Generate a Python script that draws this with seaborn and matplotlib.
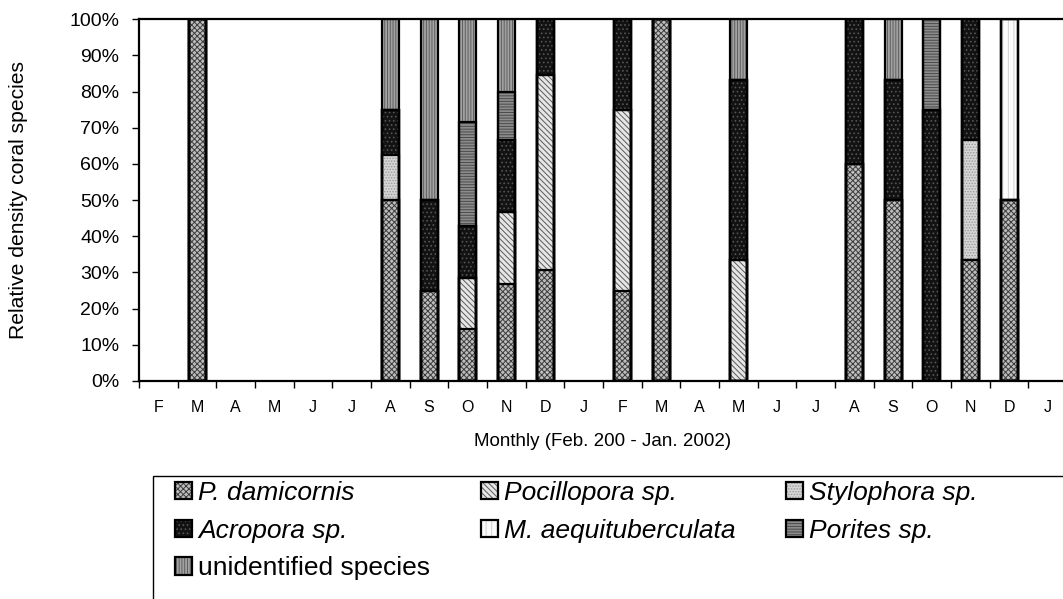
import numpy as np
import matplotlib
matplotlib.use("Agg")
import matplotlib.pyplot as plt
import matplotlib.patches as mpatches
from matplotlib.legend_handler import HandlerTuple
from matplotlib.ticker import PercentFormatter, FixedLocator
import seaborn as sns

# monthly relative density (%), Feb 2001 - Jan 2002 and Feb 2002 - Jan 2003
months = ['F', 'M', 'A', 'M', 'J', 'J', 'A', 'S', 'O', 'N', 'D', 'J',
          'F', 'M', 'A', 'M', 'J', 'J', 'A', 'S', 'O', 'N', 'D', 'J']

p_damicornis = [0, 100, 0, 0, 0, 0, 50, 25, 14.29, 26.7, 30.8, 0,
                25, 100, 0, 0, 0, 0, 60, 50, 0, 33.3, 50, 0]
pocillopora = [0, 0, 0, 0, 0, 0, 0, 0, 14.29, 20, 53.8, 0,
               50, 0, 0, 33.3, 0, 0, 0, 0, 0, 0, 0, 0]
stylophora = [0, 0, 0, 0, 0, 0, 12.5, 0, 0, 0, 0, 0,
              0, 0, 0, 0, 0, 0, 0, 0, 0, 33.3, 0, 0]
acropora = [0, 0, 0, 0, 0, 0, 12.5, 25, 14.29, 20, 15.4, 0,
            25, 0, 0, 50, 0, 0, 40, 33.3, 75, 33.4, 0, 0]
m_aequituberculata = [0, 0, 0, 0, 0, 0, 0, 0, 0, 0, 0, 0,
                      0, 0, 0, 0, 0, 0, 0, 0, 0, 0, 50, 0]
porites = [0, 0, 0, 0, 0, 0, 0, 0, 28.57, 13.3, 0, 0,
           0, 0, 0, 0, 0, 0, 0, 0, 25, 0, 0, 0]
unidentified = [0, 0, 0, 0, 0, 0, 25, 50, 28.56, 20, 0, 0,
                0, 0, 0, 16.7, 0, 0, 0, 16.7, 0, 0, 0, 0]

labels = ['P. damicornis', 'Pocillopora sp.', 'Stylophora sp.', 'Acropora sp.',
          'M. aequituberculata', 'Porites sp.', 'unidentified species']
series = [p_damicornis, pocillopora, stylophora, acropora,
          m_aequituberculata, porites, unidentified]

# (fill, hatch colour, hatch) per species, grey-scale textures
styles = [('#bdbdbd', '#3c3c3c', 'xxxxxx'),
          ('#e6e6e6', '#5a5a5a', '\\\\\\\\\\\\'),
          ('#d6d6d6', '#9a9a9a', '......'),
          ('#121212', '#555555', '....'),
          ('#fbfbfb', '#cfcfcf', '|||'),
          ('#8c8c8c', '#4a4a4a', '------'),
          ('#a2a2a2', '#5e5e5e', '||||||')]

sns.set_theme(style='white')
plt.rcParams['font.family'] = ['Liberation Sans', 'DejaVu Sans']
plt.rcParams['hatch.linewidth'] = 0.7

pos = list(range(len(months)))
cum = np.cumsum(np.array(series, dtype=float), axis=0)
cum[cum == 0] = np.nan  # months without samples: no bar at all

fig = plt.figure(figsize=(10.63, 5.99), dpi=100)
ax = fig.add_axes([0.1308, 0.364, 0.873, 0.604])

bw = 0.44
# filled layers, tallest cumulative first so lower segments sit on top
for k in range(len(series) - 1, -1, -1):
    fill, hcol, hatch = styles[k]
    sns.barplot(x=pos, y=cum[k], order=pos, color=fill, saturation=1,
                edgecolor=hcol, hatch=hatch, linewidth=0, width=bw,
                errorbar=None, ax=ax)
# black outlines of every segment
for k in range(len(series)):
    sns.barplot(x=pos, y=cum[k], order=pos, facecolor='none',
                edgecolor='black', linewidth=1.6, width=bw,
                errorbar=None, ax=ax)

ax.set_xlim(-0.5, len(months) - 0.5)
ax.set_ylim(0, 100)
ax.set_yticks(np.arange(0, 101, 10))
ax.yaxis.set_major_formatter(PercentFormatter(decimals=0))
ax.set_xticks(pos)
ax.set_xticklabels(months)
ax.xaxis.set_minor_locator(FixedLocator(np.arange(-0.5, len(months), 1)))
ax.tick_params(axis='x', which='major', length=0, pad=14, labelsize=11.5, colors='black')
ax.tick_params(axis='x', which='minor', bottom=True, length=5, width=1, color='black')
ax.tick_params(axis='y', left=True, length=5, width=1, pad=9, labelsize=14, colors='black')

for s in ['left', 'top', 'bottom']:
    ax.spines[s].set_color('black')
    ax.spines[s].set_linewidth(1.6)
ax.spines['right'].set_visible(False)

ax.set_ylabel('Relative density coral species', fontsize=15.2, color='black')
ax.yaxis.set_label_coords(-0.1196, 0.5)
ax.set_xlabel('Monthly (Feb. 200 - Jan. 2002)', fontsize=13.5, color='black')
ax.xaxis.set_label_coords(0.5, -0.145)

# legend frame
frame = mpatches.Rectangle((153 / 1063, -0.02), 0.9, 0.02 + 1 - 476 / 599,
                           transform=fig.transFigure, facecolor='none',
                           edgecolor='black', linewidth=1, clip_on=False)
fig.patches.append(frame)

handles = []
for (fill, hcol, hatch) in styles:
    p1 = mpatches.Patch(facecolor=fill, edgecolor=hcol, hatch=hatch, linewidth=0)
    p2 = mpatches.Patch(facecolor='none', edgecolor='black', linewidth=1.6)
    handles.append((p1, p2))

order = [0, 3, 6, 1, 4, 2, 5]
leg = fig.legend([handles[i] for i in order], [labels[i] for i in order],
                 handler_map={tuple: HandlerTuple(ndivide=1)},
                 loc='upper left', bbox_to_anchor=(175 / 1063, 1 - 481 / 599),
                 ncol=3, frameon=False, fontsize=19, handlelength=0.64,
                 handleheight=0.64, handletextpad=0.23, columnspacing=1.93,
                 labelspacing=0.52, borderpad=0, borderaxespad=0)
for t in leg.get_texts():
    t.set_color('black')
    if t.get_text() != 'unidentified species':
        t.set_fontstyle('italic')

fig.savefig('out.png', dpi=100)
